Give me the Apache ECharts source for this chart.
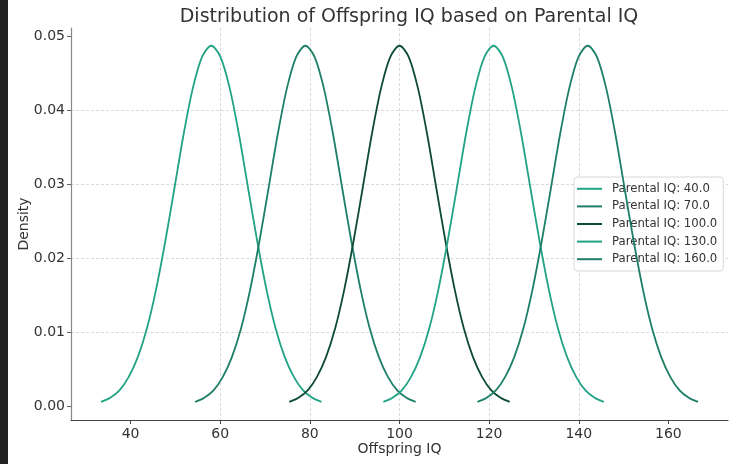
<!DOCTYPE html>
<html>
<head>
<meta charset="utf-8">
<script src="https://cdn.jsdelivr.net/npm/echarts@6/dist/echarts.min.js"></script>
<style>
  html, body { margin: 0; padding: 0; background: #fff; }
  #chart { width: 736px; height: 464px; }
</style>
</head>
<body>
<div id="chart"></div>
<script>
// 图例名称和各曲线的峰值位置（子代IQ均值）
const parentalIQ = ['40.0', '70.0', '100.0', '130.0', '160.0'];
const offspringMean = [58, 79, 100, 121, 142];
const lineColors = ['#22a386', '#1e7f68', '#0e4a39', '#22a386', '#1e7f68'];

// 相对峰值的偏移量与对应的密度（从图上读出，五条曲线形状相同）
const offsets = [-24.6, -22.55, -20.5, -18.45, -16.4, -14.35, -12.3, -10.25, -8.2, -6.15, -4.1, -2.05, 0,
                 2.05, 4.1, 6.15, 8.2, 10.25, 12.3, 14.35, 16.4, 18.45, 20.5, 22.55, 24.6];
const density = [0.00054, 0.0011, 0.0021, 0.0039, 0.0066, 0.0105, 0.0158, 0.0223, 0.0295, 0.0368, 0.0430, 0.0472, 0.0487,
                 0.0472, 0.0430, 0.0368, 0.0295, 0.0223, 0.0158, 0.0105, 0.0066, 0.0039, 0.0021, 0.0011, 0.00054];

// 坐标轴刻度
const xTicks = [40, 60, 80, 100, 120, 140, 160];
const yTicks = [0, 0.01, 0.02, 0.03, 0.04, 0.05];

const FONT = 'DejaVu Sans';

const myChart = echarts.init(document.getElementById('chart'), null, { renderer: 'canvas' });

const series = parentalIQ.map((p, i) => ({
    name: 'Parental IQ: ' + p,
    type: 'line',
    smooth: 0.3,
    showSymbol: false,
    symbol: 'none',
    data: offsets.map((o, j) => [offspringMean[i] + o, density[j]]),
    lineStyle: { color: lineColors[i], width: 1.8 },
    itemStyle: { color: lineColors[i] },
    z: 3 + i
}));

const option = {
    animation: false,
    backgroundColor: '#fff',
    graphic: [{
        type: 'rect',
        left: 0, top: 0,
        shape: { width: 8, height: 464 },
        style: { fill: '#222222' },
        z: 100
    }],
    title: {
        text: 'Distribution of Offspring IQ based on Parental IQ',
        left: 404,
        textAlign: 'center',
        top: 3,
        textStyle: { fontFamily: FONT, fontSize: 19, fontWeight: 'normal', color: '#333' }
    },
    legend: {
        orient: 'vertical',
        left: 574,
        top: 177,
        padding: [5, 6, 5, 3],
        itemWidth: 25,
        itemHeight: 2,
        itemGap: 4,
        icon: 'rect',
        backgroundColor: 'rgba(255,255,255,0.85)',
        borderColor: '#d8d8d8',
        borderWidth: 1,
        borderRadius: 3,
        textStyle: { fontFamily: FONT, fontSize: 11.7, color: '#333', lineHeight: 13.6, padding: [0, 0, 0, 5] }
    },
    grid: { left: 71, right: 8, top: 28, bottom: 44, containLabel: false },
    xAxis: {
        type: 'value',
        min: 26.7,
        max: 173.3,
        splitNumber: 7,
        name: 'Offspring IQ',
        nameLocation: 'middle',
        nameGap: 22,
        nameMoveOverlap: false,
        nameTextStyle: { fontFamily: FONT, fontSize: 14, color: '#333' },
        axisLine: { show: true, onZero: false, lineStyle: { color: '#444', width: 1.2 } },
        axisTick: { show: true, customValues: xTicks, length: 4, lineStyle: { color: '#444' } },
        axisLabel: { customValues: xTicks, fontFamily: FONT, fontSize: 14, color: '#333', margin: 7 },
        splitLine: { show: true, showMinLine: false, showMaxLine: false, lineStyle: { color: '#d0d0d0', type: [3, 2], width: 0.8 } }
    },
    yAxis: {
        type: 'value',
        min: -0.0019,
        max: 0.0511,
        name: 'Density',
        nameLocation: 'middle',
        nameGap: 40,
        nameMoveOverlap: false,
        nameTextStyle: { fontFamily: FONT, fontSize: 14, color: '#333' },
        axisLine: { show: true, lineStyle: { color: '#888', width: 1.2 } },
        axisTick: { show: true, customValues: yTicks, length: 4, lineStyle: { color: '#666' } },
        axisLabel: {
            customValues: yTicks,
            fontFamily: FONT, fontSize: 14, color: '#333', margin: 6,
            formatter: v => v.toFixed(2)
        },
        splitLine: { show: true, showMinLine: false, showMaxLine: false, lineStyle: { color: '#d0d0d0', type: [3, 2], width: 0.8 } }
    },
    series: series
};

myChart.setOption(option);
</script>
</body>
</html>
